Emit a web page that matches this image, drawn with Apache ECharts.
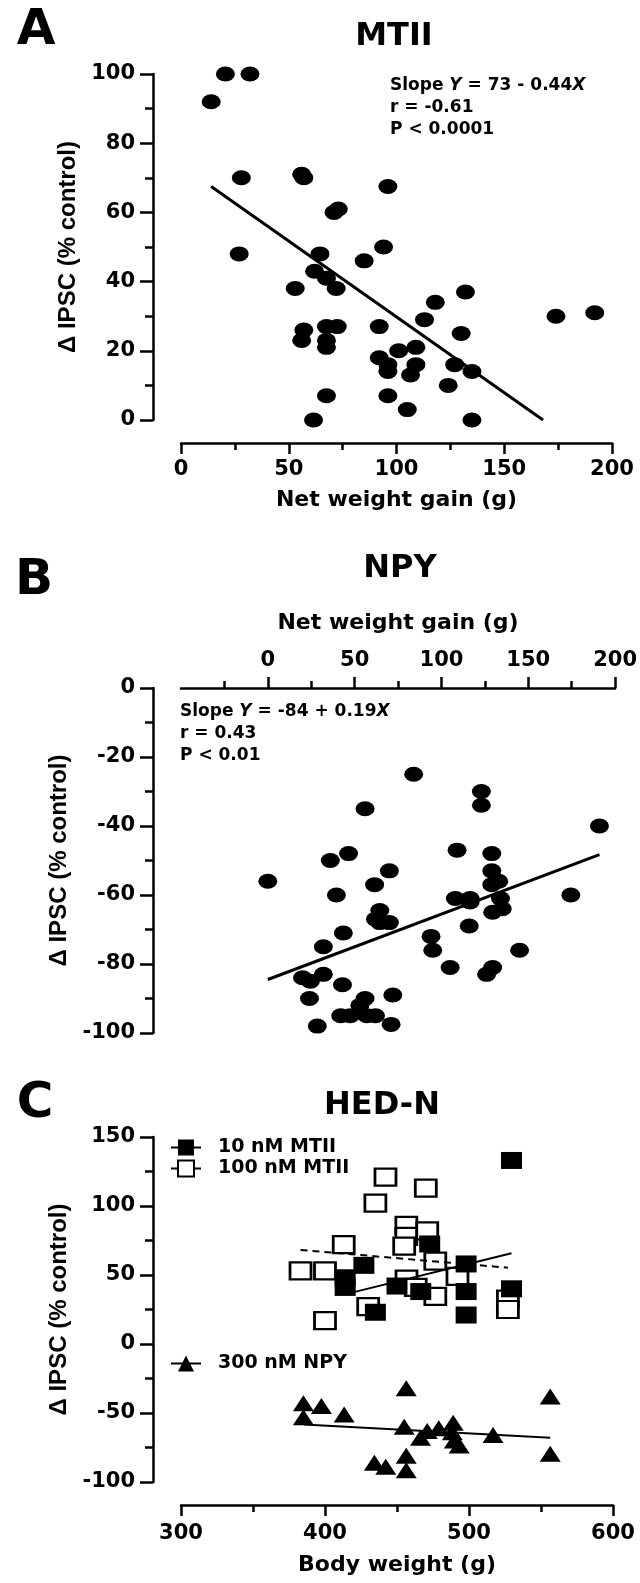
<!DOCTYPE html>
<html>
<head>
<meta charset="utf-8">
<script src="https://cdn.jsdelivr.net/npm/echarts@6/dist/echarts.min.js"></script>
<style>
html, body { margin: 0; padding: 0; background: #fff; }
#main { width: 640px; height: 1583px; }
</style>
</head>
<body>
<div id="main"></div>
<script>
// panel A - MTII
var gainA = [14, 20.6, 32, 28, 56, 57, 96, 71, 73, 94, 27, 64.5, 85, 62, 67.5, 72, 53, 132, 118, 174,
    192, 113, 92, 67.5, 72.5, 57, 56, 67.5, 67.5, 130, 101, 109, 92, 96, 96, 109, 106.5, 127, 135, 124,
    67.5, 96, 105, 61.5, 135];
var ipscA = [92, 100, 100, 70, 71, 70, 67.5, 60, 61, 50, 48, 48, 46, 43, 41, 38, 38, 37, 34, 30,
    31, 29, 27, 27, 27, 26, 23, 23, 21, 25, 20, 21, 18, 16, 14, 16, 13, 16, 14, 10,
    7, 7, 3, 0, 0];
var fitAx = [14, 168];
var fitAy = [67.5, 0];

// panel B - NPY
var gainB = [84, 123, 123, 56, 191, 109, 129, 46.5, 36, 70, 129, 133, 0, 61.5, 129, 39.5, 174.5, 108, 116.5, 116.5,
    134, 135, 129.5, 64.5, 62, 70, 64.5, 116, 43.5, 94, 95, 145, 32, 105, 129.5, 126, 20, 24.5, 32, 43,
    24, 56, 53, 72, 42, 47.5, 57, 62, 28.5, 71];
var ipscB = [-25, -30, -34, -35, -40, -47, -48, -48, -50, -53, -53, -56, -56, -57, -57, -60, -60, -61, -61, -62,
    -61, -64, -65, -64.5, -67, -68, -68, -69, -71, -72, -76, -76, -75, -81, -81, -83, -84, -85, -83, -86,
    -90, -90, -92, -89, -95, -95, -95, -95, -98, -97.5];
var fitBx = [0, 191];
var fitBy = [-84.5, -48.3];

// panel C - HED-N
var weight10 = [529.5, 472.7, 427, 498, 414, 414, 450, 466.5, 498, 529.5, 435, 498];
var ipsc10 = [133, 72.5, 57, 58, 48, 41, 42, 38, 38, 40, 23, 21];
var weight100 = [442, 470, 435, 456.5, 456.5, 455, 471, 413, 383, 400, 476.6, 492, 456.6, 463, 476.6, 527, 527, 430, 400];
var ipsc100 = [121, 113, 102, 86, 78, 71, 82, 72, 53, 53, 60, 49, 47, 41, 34.5, 32.5, 25, 27, 17];
var weightNpy = [385, 385, 397.5, 413.3, 456.4, 556.4, 455, 471, 479, 466.3, 489, 488.4, 489.8, 493.2, 516.7, 556.4, 434.3, 442.2, 456.4, 456.4];
var ipscNpy = [-43, -53, -45, -51, -32, -38, -60, -63, -61, -68, -57, -64, -70, -73.5, -66, -79.5, -86, -89, -81, -91.5];
var fit10x = [420, 529.5], fit10y = [37.6, 65.7];
var fit100x = [383, 527], fit100y = [68.2, 55.3];
var fitNpyx = [385.5, 556.4], fitNpyy = [-58.3, -68];
var zeroLineX = [280.5, 600];

var ticksB = [0, 50, 100, 150, 200];

function pairs(xs, ys) {
    return xs.map(function (x, i) { return [x, ys[i]]; });
}

var tickFont = { fontFamily: 'DejaVu Sans', fontWeight: 'bold', fontSize: 21, color: '#000' };
var nameFont = { fontFamily: 'DejaVu Sans', fontWeight: 'bold', fontSize: 22, color: '#000' };
var yNameFont = { fontFamily: 'Liberation Sans', fontWeight: 'bold', fontSize: 24, color: '#000' };
var legendFont = { fontFamily: 'DejaVu Sans', fontWeight: 'bold', fontSize: 19, color: '#000', padding: [0, 0, 0, 12] };

function axis(gridIndex, min, max, step, pos, offset, margin, name, nameGap, font) {
    return {
        type: 'value', gridIndex: gridIndex, min: min, max: max, interval: step,
        position: pos, offset: offset,
        name: name, nameLocation: 'middle', nameGap: nameGap, nameTextStyle: font,
        axisLine: { show: true, onZero: false, lineStyle: { color: '#000', width: 2.5 } },
        axisTick: { show: true, length: (pos === 'left' ? 13 : 11), lineStyle: { color: '#000', width: 2.5 } },
        minorTick: { show: true, splitNumber: 2, length: (pos === 'left' ? 8 : 7), lineStyle: { color: '#000', width: 2.5 } },
        splitLine: { show: false },
        minorSplitLine: { show: false },
        axisLabel: Object.assign({ margin: margin }, tickFont)
    };
}

// top axis of B: no tick or label at the -50 end
var xB = axis(1, -50, 200, 50, 'top', 0, 17, 'Net weight gain (g)', 54, nameFont);
xB.axisTick.customValues = ticksB;
xB.axisLabel.customValues = ticksB;

var rich = {
    b: { fontFamily: 'DejaVu Sans', fontWeight: 'bold', fontSize: 17, lineHeight: 22, fill: '#000' },
    i: { fontFamily: 'DejaVu Sans', fontWeight: 'bold', fontStyle: 'italic', fontSize: 17, lineHeight: 22, fill: '#000' }
};
function bigText(x, y, t, size) {
    return { type: 'text', x: x, y: y, style: { text: t, fill: '#000', align: 'center', verticalAlign: 'middle',
        font: 'bold ' + size + 'px "DejaVu Sans"' } };
}

var myChart = echarts.init(document.getElementById('main'));

option = {
    backgroundColor: '#fff',
    animation: false,
    grid: [
        { left: 181, top: 74, width: 431, height: 346 },
        { left: 181, top: 688, width: 438, height: 345 },
        { left: 181, top: 1137, width: 432, height: 345 }
    ],
    xAxis: [
        axis(0, 0, 200, 50, 'bottom', 23, 16, 'Net weight gain (g)', 46, nameFont),
        xB,
        axis(2, 300, 600, 100, 'bottom', 23, 18, 'Body weight (g)', 49, nameFont)
    ],
    yAxis: [
        axis(0, 0, 100, 20, 'left', 28, 18, 'Δ IPSC (% control)', 65, yNameFont),
        axis(1, -100, 0, 20, 'left', 28, 18, 'Δ IPSC (% control)', 73, yNameFont),
        axis(2, -100, 150, 50, 'left', 28, 18, 'Δ IPSC (% control)', 78, yNameFont)
    ],
    legend: [
        {
            data: ['10 nM MTII', '100 nM MTII'], orient: 'vertical', left: 165, top: 1133,
            itemWidth: 30, itemHeight: 20, itemGap: 2, selectedMode: false, textStyle: legendFont
        },
        {
            data: ['300 nM NPY'], orient: 'vertical', left: 165, top: 1349,
            itemWidth: 30, itemHeight: 20, selectedMode: false, textStyle: legendFont
        }
    ],
    graphic: [
        bigText(36, 31, 'A', 50),
        bigText(394, 37, 'MTII', 32),
        bigText(34, 581, 'B', 50),
        bigText(400, 569, 'NPY', 32),
        bigText(35, 1104, 'C', 50),
        bigText(382, 1106, 'HED-N', 32),
        { type: 'text', x: 390, y: 75, style: { text: '{b|Slope }{i|Y}{b| = 73 - 0.44}{i|X}\n{b|r = -0.61}\n{b|P < 0.0001}', rich: rich, verticalAlign: 'top' } },
        { type: 'text', x: 180, y: 701, style: { text: '{b|Slope }{i|Y}{b| = -84 + 0.19}{i|X}\n{b|r = 0.43}\n{b|P < 0.01}', rich: rich, verticalAlign: 'top' } }
    ],
    series: [
        {
            name: 'MTII', type: 'scatter', xAxisIndex: 0, yAxisIndex: 0,
            symbol: 'circle', symbolSize: [19, 15], itemStyle: { color: '#000', opacity: 1 },
            data: pairs(gainA, ipscA)
        },
        {
            name: 'MTII fit', type: 'line', xAxisIndex: 0, yAxisIndex: 0, symbol: 'none',
            lineStyle: { color: '#000', width: 3 }, data: pairs(fitAx, fitAy)
        },
        {
            name: 'NPY', type: 'scatter', xAxisIndex: 1, yAxisIndex: 1,
            symbol: 'circle', symbolSize: [19, 15], itemStyle: { color: '#000', opacity: 1 },
            data: pairs(gainB, ipscB)
        },
        {
            name: 'NPY fit', type: 'line', xAxisIndex: 1, yAxisIndex: 1, symbol: 'none',
            lineStyle: { color: '#000', width: 3 }, data: pairs(fitBx, fitBy)
        },
        // legend entries come from the fit lines
        {
            name: '10 nM MTII', type: 'line', xAxisIndex: 2, yAxisIndex: 2, symbol: 'rect', showSymbol: false,
            itemStyle: { color: '#000' }, lineStyle: { color: '#000', width: 2 }, data: pairs(fit10x, fit10y)
        },
        {
            name: '100 nM MTII', type: 'line', xAxisIndex: 2, yAxisIndex: 2, symbol: 'emptyRect', showSymbol: false,
            itemStyle: { color: '#000' }, lineStyle: { color: '#000', width: 2, type: [7, 5] }, data: pairs(fit100x, fit100y)
        },
        {
            name: '300 nM NPY', type: 'line', xAxisIndex: 2, yAxisIndex: 2, symbol: 'triangle', showSymbol: false,
            itemStyle: { color: '#000' }, lineStyle: { color: '#000', width: 2 }, data: pairs(fitNpyx, fitNpyy)
        },
        {
            name: '100 nM pts', type: 'scatter', xAxisIndex: 2, yAxisIndex: 2,
            symbol: 'rect', symbolSize: [21, 17],
            itemStyle: { color: '#fff', borderColor: '#000', borderWidth: 2.5, opacity: 1 },
            data: pairs(weight100, ipsc100)
        },
        {
            name: '10 nM pts', type: 'scatter', xAxisIndex: 2, yAxisIndex: 2,
            symbol: 'rect', symbolSize: [21, 17], itemStyle: { color: '#000', opacity: 1 },
            data: pairs(weight10, ipsc10)
        },
        {
            name: '300 nM pts', type: 'scatter', xAxisIndex: 2, yAxisIndex: 2, clip: false,
            symbol: 'triangle', symbolSize: [21, 16], itemStyle: { color: '#000', opacity: 1 },
            data: pairs(weightNpy, ipscNpy),
            markLine: {
                silent: true, symbol: 'none', label: { show: false },
                lineStyle: { color: '#000', width: 1.2, type: [4, 3] },
                data: [[{ coord: [zeroLineX[0], 0] }, { coord: [zeroLineX[1], 0] }]]
            }
        }
    ]
};
myChart.setOption(option);
</script>
</body>
</html>
